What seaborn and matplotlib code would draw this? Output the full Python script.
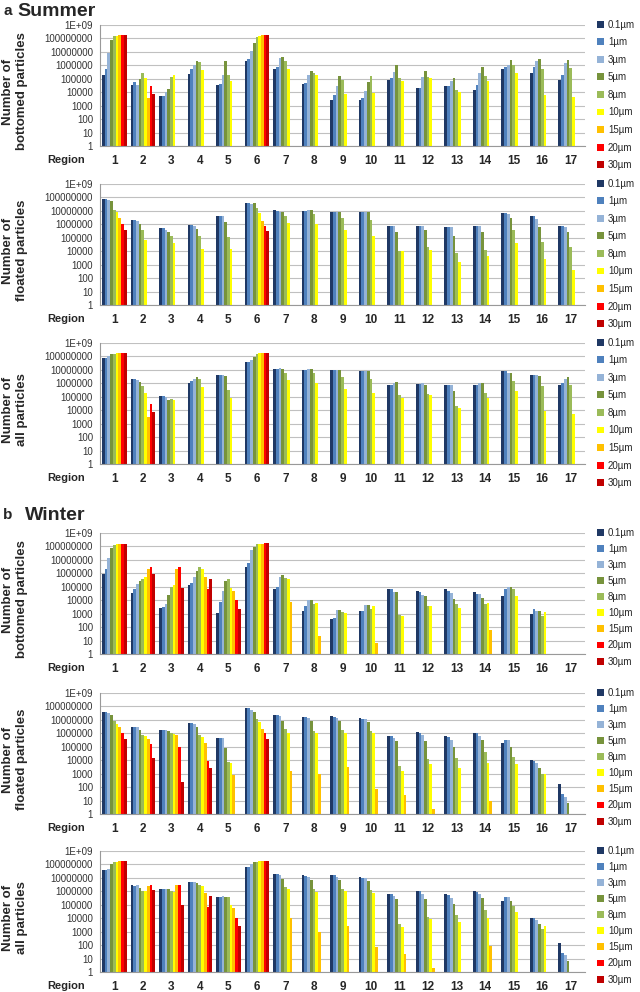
import numpy as np
import pandas as pd
import seaborn as sns
import matplotlib.pyplot as plt
from matplotlib.patches import Patch

sns.set_theme(style="white")
plt.rcParams["font.family"] = ["Liberation Sans", "DejaVu Sans"]

regions = [str(i) for i in range(1, 18)]
sizes = ["0.1µm", "1µm", "3µm", "5µm", "8µm", "10µm", "15µm", "20µm", "30µm"]
colors = ["#1f3864", "#4f81bd", "#95b3d7", "#77933c", "#9bbb59",
          "#ffff00", "#ffc000", "#ff0000", "#c00000"]
ytick_labels = ["1", "10", "100", "1000", "10000", "100000", "1000000",
                "10000000", "100000000", "1E+09"]

# log10 of particle counts, one row per region (0.1 .. 30 µm), missing sizes left off
summer_bottomed = [
    [5.3, 5.7, 6.95, 7.85, 8.15, 8.2, 8.25, 8.25, 8.25],
    [4.55, 4.75, 4.55, 5.0, 5.4, 5.05, 3.55, 4.45, 3.85],
    [3.7, 3.7, 4.05, 4.25, 5.15, 5.3],
    [5.35, 5.75, 6.0, 6.3, 6.25, 5.65],
    [4.55, 4.6, 5.3, 6.3, 5.3, 4.8],
    [6.35, 6.45, 7.1, 7.65, 8.1, 8.2, 8.25, 8.25, 8.25],
    [5.75, 5.9, 6.55, 6.6, 6.35, 5.7],
    [4.6, 4.65, 5.3, 5.55, 5.4, 5.25],
    [3.45, 3.8, 4.45, 5.2, 4.9, 3.9],
    [3.45, 3.6, 4.1, 4.75, 5.2, 3.95],
    [4.9, 5.05, 5.5, 6.0, 5.05, 4.8],
    [4.3, 4.35, 5.15, 5.55, 5.1, 5.05],
    [4.5, 4.5, 4.85, 5.05, 4.15, 4.05],
    [4.15, 4.55, 5.4, 5.9, 5.2, 4.8],
    [5.75, 5.85, 6.0, 6.4, 6.05, 5.4],
    [5.45, 5.85, 6.35, 6.45, 5.75, 3.8],
    [4.9, 5.25, 6.2, 6.4, 5.8, 3.65],
]
summer_floated = [
    [7.85, 7.85, 7.8, 7.75, 7.05, 6.95, 6.5, 6.05, 5.55],
    [6.3, 6.3, 6.25, 6.05, 5.6, 4.85],
    [5.7, 5.7, 5.6, 5.4, 5.15, 4.6],
    [5.95, 5.95, 5.9, 5.65, 5.1, 4.15],
    [6.65, 6.65, 6.65, 6.2, 5.05, 4.15],
    [7.55, 7.55, 7.5, 7.55, 7.25, 6.85, 6.25, 5.9, 5.5],
    [7.05, 7.0, 6.95, 6.9, 6.6, 6.1],
    [7.0, 7.0, 7.05, 7.05, 6.75, 6.05],
    [6.95, 6.95, 6.95, 6.95, 6.45, 5.6],
    [6.95, 6.95, 6.9, 6.9, 6.3, 5.15],
    [5.85, 5.85, 5.85, 5.4, 4.0, 4.0],
    [5.9, 5.9, 5.9, 5.55, 4.35, 4.1],
    [5.8, 5.8, 5.8, 5.1, 3.85, 3.2],
    [5.9, 5.9, 5.9, 5.4, 4.1, 3.65],
    [6.85, 6.85, 6.75, 6.5, 5.6, 4.6],
    [6.6, 6.6, 6.4, 5.8, 4.7, 3.4],
    [5.85, 5.9, 5.8, 5.45, 4.3, 2.6],
]
summer_all = [
    [7.85, 7.85, 8.05, 8.15, 8.2, 8.25, 8.25, 8.25, 8.25],
    [6.3, 6.3, 6.25, 6.1, 5.8, 5.25, 3.5, 4.45, 3.9],
    [5.05, 5.05, 5.0, 4.75, 4.85, 4.75],
    [6.0, 6.15, 6.3, 6.45, 6.3, 5.75],
    [6.65, 6.65, 6.65, 6.55, 5.5, 4.9],
    [7.6, 7.6, 7.75, 7.95, 8.15, 8.25, 8.25, 8.25, 8.25],
    [7.1, 7.1, 7.15, 7.05, 6.8, 6.25],
    [7.0, 7.0, 7.1, 7.1, 6.8, 6.05],
    [7.0, 7.0, 7.0, 7.0, 6.5, 5.6],
    [6.95, 6.95, 6.95, 6.95, 6.3, 5.25],
    [5.85, 5.9, 6.0, 6.1, 5.1, 4.9],
    [5.95, 5.95, 6.0, 5.85, 5.2, 5.1],
    [5.85, 5.85, 5.85, 5.4, 4.3, 4.15],
    [5.85, 5.9, 6.0, 6.05, 5.25, 4.9],
    [6.95, 6.95, 6.8, 6.75, 6.15, 5.45],
    [6.6, 6.65, 6.65, 6.55, 5.8, 3.95],
    [5.85, 6.0, 6.35, 6.5, 5.85, 3.7],
]
winter_bottomed = [
    [5.95, 6.35, 7.15, 7.9, 8.1, 8.15, 8.2, 8.2, 8.2],
    [4.55, 4.8, 5.2, 5.45, 5.55, 5.7, 6.3, 6.45, 5.95],
    [3.45, 3.5, 3.7, 4.4, 5.0, 5.1, 6.3, 6.45, 4.9],
    [5.15, 5.25, 5.75, 6.15, 6.45, 6.3, 5.7, 4.8, 5.6],
    [3.05, 3.85, 4.7, 5.45, 5.55, 4.9, 4.7, 4.05, 3.35],
    [6.45, 6.8, 7.7, 7.95, 8.2, 8.2, 8.2, 8.22, 8.22],
    [4.8, 4.95, 5.7, 5.9, 5.65, 5.6, 3.85],
    [3.2, 3.6, 4.05, 4.0, 3.7, 3.8, 1.35],
    [2.6, 2.65, 3.3, 3.3, 3.15, 3.05],
    [3.2, 3.2, 3.65, 3.65, 3.35, 3.55, 0.8],
    [4.85, 4.85, 4.6, 4.6, 2.9, 2.8],
    [4.65, 4.6, 4.4, 4.3, 3.6, 3.6],
    [4.85, 4.7, 4.55, 4.1, 3.75, 3.4],
    [4.6, 4.5, 4.45, 4.15, 3.75, 3.8, 1.8],
    [4.35, 4.85, 5.0, 5.0, 4.8, 4.35],
    [2.95, 3.35, 3.2, 3.2, 2.85, 3.15],
    [],
]
winter_floated = [
    [7.6, 7.6, 7.5, 7.4, 6.9, 6.7, 6.45, 6.05, 5.55],
    [6.5, 6.5, 6.5, 6.25, 5.9, 5.8, 5.6, 5.2, 4.15],
    [6.25, 6.25, 6.25, 6.15, 6.05, 5.95, 5.85, 5.0, 2.4],
    [6.8, 6.8, 6.7, 6.5, 5.85, 5.7, 5.3, 3.95, 3.4],
    [5.65, 5.65, 5.65, 4.9, 3.9, 3.8, 2.9],
    [7.9, 7.85, 7.75, 7.55, 7.05, 6.85, 6.3, 6.0, 5.6],
    [7.35, 7.35, 7.3, 6.95, 6.3, 6.05, 3.2],
    [7.25, 7.2, 7.15, 6.9, 6.2, 6.0, 3.0],
    [7.3, 7.2, 7.15, 6.9, 6.25, 6.05, 3.5],
    [7.15, 7.05, 7.05, 6.85, 6.15, 6.0, 1.85],
    [5.8, 5.8, 5.65, 5.4, 3.6, 3.2, 1.45],
    [6.1, 6.05, 5.85, 5.45, 4.1, 3.7, 0.35],
    [5.8, 5.75, 5.5, 5.0, 4.15, 3.45],
    [6.05, 6.05, 5.8, 5.5, 4.6, 3.8, 1.0],
    [5.3, 5.5, 5.5, 4.95, 4.25, 3.7],
    [4.0, 3.95, 3.8, 3.45, 2.95, 2.95],
    [2.2, 1.5, 1.3, 0.85],
]
winter_all = [
    [7.55, 7.55, 7.65, 8.0, 8.15, 8.2, 8.25, 8.25, 8.25],
    [6.45, 6.4, 6.45, 6.25, 6.0, 6.05, 6.4, 6.5, 6.1],
    [6.15, 6.15, 6.15, 6.15, 6.0, 5.95, 6.45, 6.45, 5.0],
    [6.7, 6.7, 6.7, 6.6, 6.5, 6.4, 5.85, 4.85, 5.65],
    [5.6, 5.6, 5.65, 5.6, 5.6, 4.95, 4.75, 4.05, 3.4],
    [7.8, 7.8, 8.0, 8.15, 8.2, 8.25, 8.25, 8.25, 8.25],
    [7.3, 7.3, 7.25, 6.95, 6.3, 6.15, 4.0],
    [7.2, 7.15, 7.05, 6.85, 6.15, 5.95, 2.95],
    [7.25, 7.2, 7.1, 6.85, 6.15, 6.0, 3.45],
    [7.1, 7.0, 7.0, 6.8, 6.1, 5.9, 1.85],
    [5.8, 5.8, 5.65, 5.4, 3.6, 3.35, 1.35],
    [6.05, 6.0, 5.8, 5.4, 4.1, 3.95, 0.3],
    [5.8, 5.75, 5.5, 5.05, 4.25, 3.7],
    [6.0, 5.95, 5.8, 5.5, 4.6, 4.05, 1.95],
    [5.3, 5.55, 5.55, 5.3, 4.9, 4.45],
    [4.05, 4.05, 3.85, 3.6, 3.2, 3.4],
    [2.15, 1.45, 1.25, 0.85],
]

# (y label, data, axes top in px, legend row spacing)
panels = [
    ("Number of\nbottomed particles", summer_bottomed, 25, 0.78),
    ("Number of\nfloated particles", summer_floated, 184, 0.78),
    ("Number of\nall particles", summer_all, 343, 0.78),
    ("Number of\nbottomed particles", winter_bottomed, 533, 0.63),
    ("Number of\nfloated particles", winter_floated, 693, 0.63),
    ("Number of\nall particles", winter_all, 851, 0.63),
]


def to_frame(rows):
    recs = []
    for reg, row in zip(regions, rows):
        for size, v in zip(sizes, row):
            recs.append({"region": reg, "size": size, "count": 10 ** v})
    return pd.DataFrame(recs)


W, H = 640, 992
fig = plt.figure(figsize=(W / 100, H / 100), dpi=100)
ax_left, ax_width, ax_height = 100, 485, 121

for ylabel, rows, top, lspace in panels:
    ax = fig.add_axes([ax_left / W, 1 - (top + ax_height) / H, ax_width / W, ax_height / H])
    df = to_frame(rows)
    sns.barplot(data=df, x="region", y="count", hue="size", order=regions,
                hue_order=sizes, palette=colors, width=0.86, saturation=1,
                errorbar=None, linewidth=0, legend=False, ax=ax)
    ax.set_yscale("log")
    ax.set_ylim(1, 1e9)
    ax.set_xlim(-0.5, 16.5)
    ax.set_yticks([10 ** i for i in range(10)])
    ax.set_yticklabels(ytick_labels, fontsize=7, color="#333333")
    ax.yaxis.set_minor_locator(plt.NullLocator())
    ax.set_xticks(range(17))
    ax.set_xticklabels(regions, fontsize=8.5, fontweight="bold")
    ax.set_xticks(np.arange(-0.5, 17, 1), minor=True)
    ax.tick_params(axis="x", which="major", length=0, pad=6.5)
    ax.tick_params(axis="x", which="minor", length=3, color="#999999", direction="out")
    ax.tick_params(axis="y", which="major", length=3, color="#999999", pad=2)
    ax.yaxis.grid(True, color="#c0c0c0", lw=0.8)
    ax.set_axisbelow(True)
    for s in ["top", "right"]:
        ax.spines[s].set_visible(False)
    for s in ["left", "bottom"]:
        ax.spines[s].set_color("#999999")
        ax.spines[s].set_linewidth(0.8)
    ax.set_xlabel("")
    ax.set_ylabel("")
    fig.text(15 / W, 1 - (top + ax_height / 2 + 6) / H, ylabel, rotation=90,
             ha="center", va="center", fontsize=9.5, fontweight="bold",
             linespacing=1.15)
    fig.text(47 / W, 1 - (top + ax_height + 14) / H, "Region", ha="left",
             va="center", fontsize=8, fontweight="bold")
    handles = [Patch(facecolor=c, edgecolor="none") for c in colors]
    ax.legend(handles, sizes, loc="upper left", bbox_to_anchor=(1.025, 1.045),
              frameon=False, fontsize=7, borderpad=0, labelspacing=lspace,
              handlelength=0.7, handleheight=0.7, handletextpad=0.4,
              borderaxespad=0)

fig.text(3 / W, 1 - 11 / H, "a", fontsize=11, fontweight="bold", va="center")
fig.text(17 / W, 1 - 11 / H, "Summer", fontsize=14, fontweight="bold", va="center")
fig.text(3 / W, 1 - 515 / H, "b", fontsize=11, fontweight="bold", va="center")
fig.text(25 / W, 1 - 515 / H, "Winter", fontsize=14, fontweight="bold", va="center")

fig.savefig("out.png", dpi=100)
